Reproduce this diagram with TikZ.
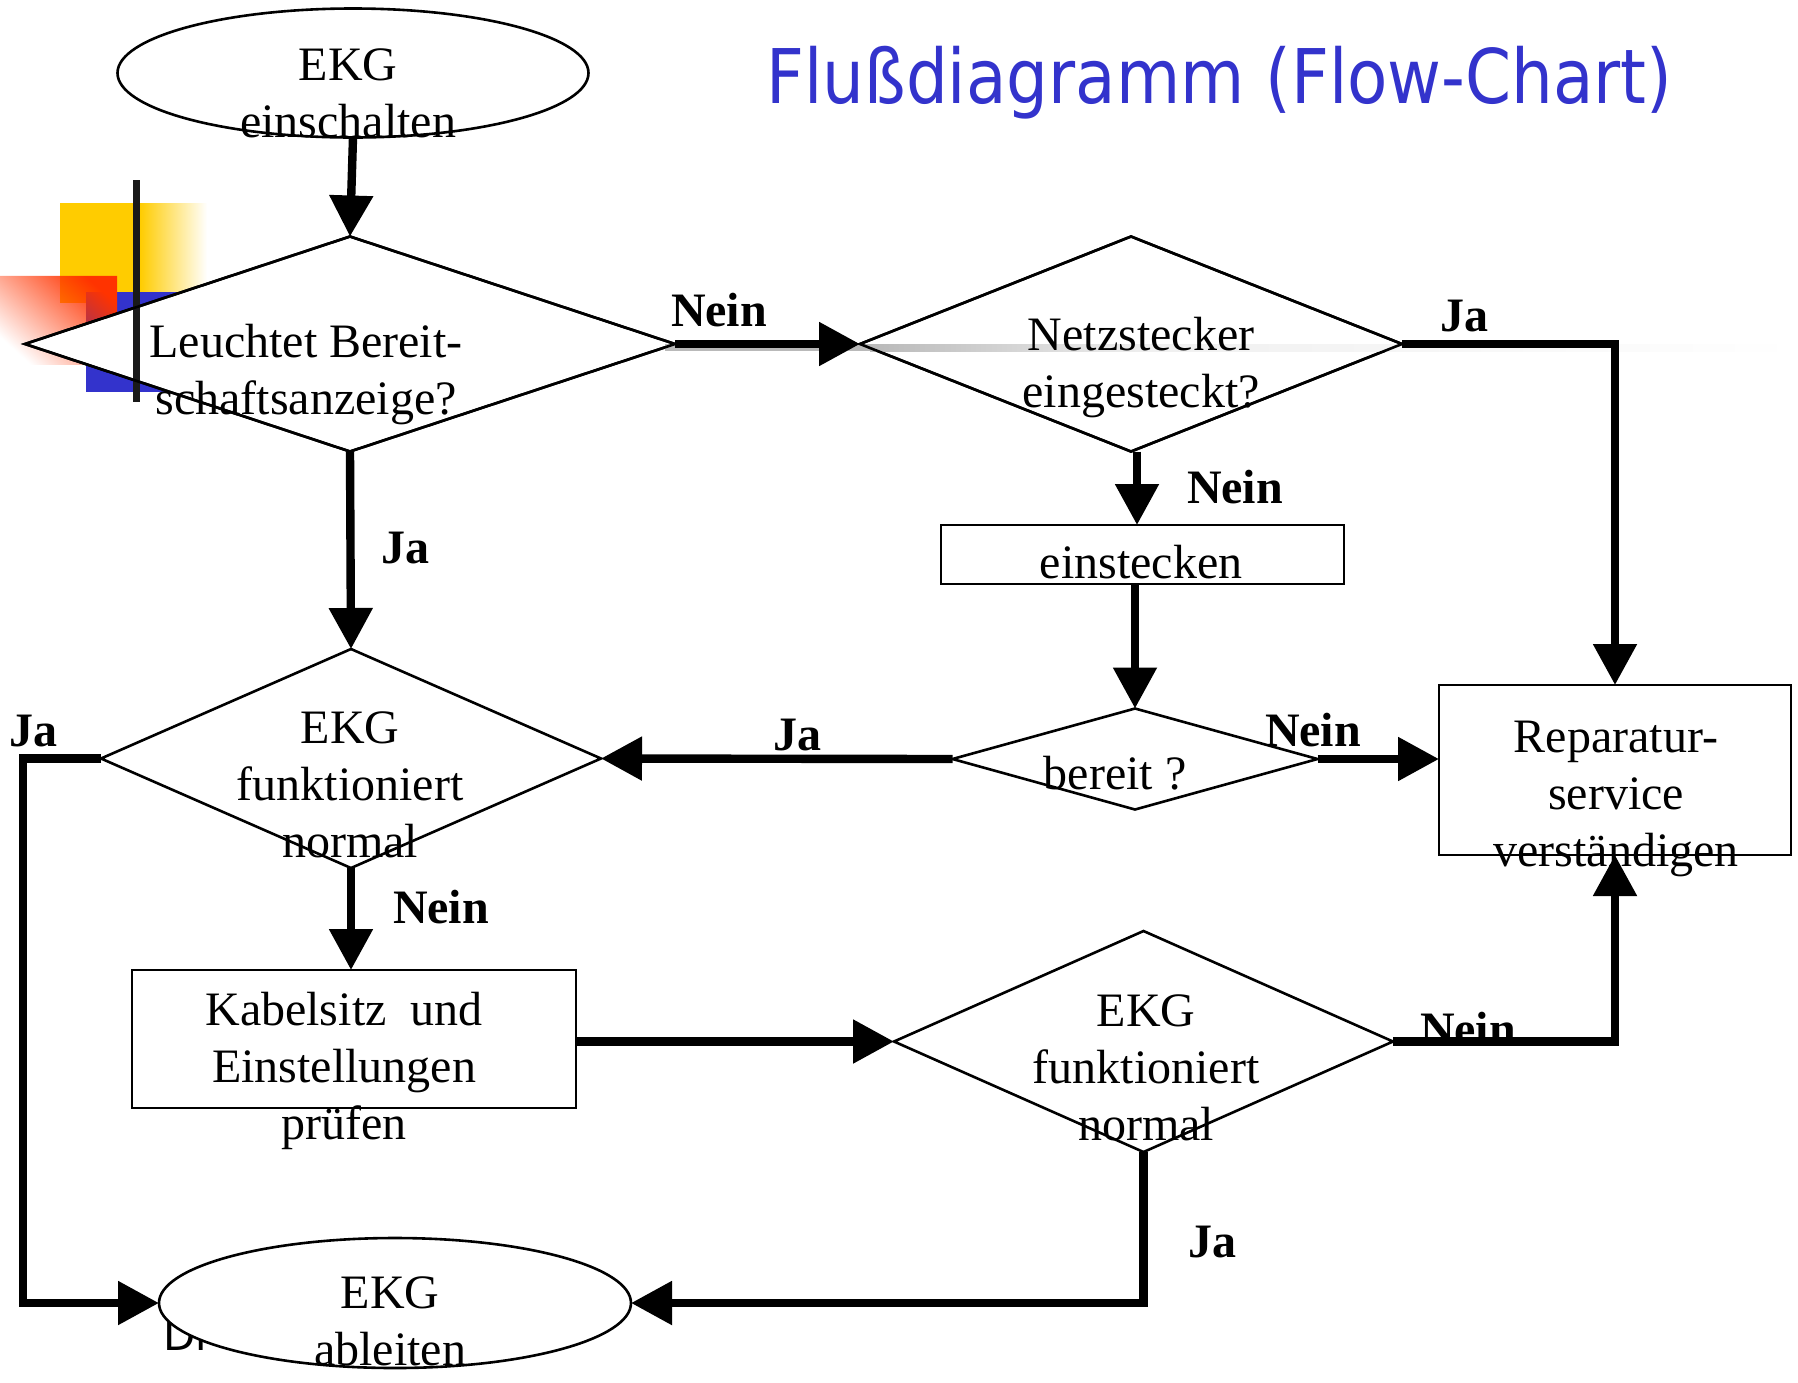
\documentclass[tikz,border=0pt]{standalone}
\usepackage{fontspec}
\usepackage{graphicx}
\setmainfont{Liberation Serif}
\newfontfamily\titlefont{DejaVu Sans}
\usetikzlibrary{shapes.geometric,arrows.meta,fadings}

\definecolor{titleblue}{HTML}{3333CC}
\definecolor{decoyellow}{HTML}{FFCC00}
\definecolor{decored}{HTML}{FF3300}
\definecolor{decoblue}{HTML}{3333CC}

\tikzfading[name=redfade, left color=transparent!100, right color=transparent!0]

% stacked, centred lines; the first baseline is the node's base
\newcommand\flowtext[1]{\begin{tabular}[t]{@{}c@{}}#1\end{tabular}}

\begin{document}
\begin{tikzpicture}[x=0.5pt,y=-0.5pt,
  base/.style={draw, line width=1.3pt, fill=white, inner sep=0pt, outer sep=0pt},
  dia/.style={base, diamond},
  oval/.style={base, ellipse},
  box/.style={base, rectangle},
  outline/.style={line width=1.3pt, line join=miter},
  txt/.style={anchor=base, inner sep=0pt, font=\fontsize{24pt}{28.5pt}\selectfont},
  lbl/.style={inner sep=0pt, font=\fontsize{24pt}{28.5pt}\selectfont\bfseries},
  conn/.style={line width=4.2pt, line join=miter},
  flow/.style={conn, -{Triangle[length=20.5pt,width=21pt]}}
]
\useasboundingbox (0,0) rectangle (1798,1382);

% corner ornament
\fill[decoyellow] (60,203) rectangle (141,303);
\shade[left color=decoyellow, right color=white] (140,203) rectangle (207,303);
\fill[decoblue] (86,292) rectangle (200,392);
\fill[decored, path fading=redfade, fading angle=40] (0,276) rectangle (117,365);

% title
\node[anchor=base west, inner sep=0pt, text=titleblue] (title) at (766,103)
  {\resizebox{453pt}{\height}{\titlefont\fontsize{37.7pt}{40pt}\selectfont Flußdiagramm (Flow-Chart)}};

% footer text, mostly hidden by the last ellipse
\node[anchor=base west, inner sep=0pt, font=\titlefont\fontsize{21pt}{24pt}\selectfont] (foot) at (163,1350) {Dr};

% shapes
\node[oval, minimum width=235.5pt, minimum height=64.5pt] (e1) at (353,73) {};
\node[dia, minimum width=325pt, minimum height=107.5pt] (d1) at (350,344) {};
\node[dia, minimum width=271pt, minimum height=107.5pt] (d2) at (1131,344) {};
\node[box, minimum width=201.5pt, minimum height=29.5pt] (r1) at (1142.5,554.5) {};
\node[dia, minimum width=182.5pt, minimum height=50.5pt] (d3) at (1135,759) {};
\node[box, minimum width=176pt, minimum height=85pt] (r2) at (1615,770) {};
\node[dia, minimum width=250pt, minimum height=109.5pt] (d4) at (351,758.5) {};
\node[box, minimum width=222pt, minimum height=69pt] (r3) at (354,1039) {};
\node[dia, minimum width=249.5pt, minimum height=110.5pt] (d5) at (1143.5,1041.5) {};
\node[oval, minimum width=236pt, minimum height=65pt] (e2) at (395,1303) {};

% ornament bar over the first decision
\fill[black!90] (133,180) rectangle (140,402);

% grey rule of the slide layout
\fill[gray!55] (665,344) rectangle (871,351);
\shade[left color=gray!55, right color=gray!12] (870,344) rectangle (1151,351);
\shade[left color=gray!12, right color=white] (1150,344) rectangle (1798,351);

% outlines of the two upper decisions stay above the rule
\draw[outline] (d1.north) -- (d1.east) -- (d1.south) -- (d1.west) -- cycle;
\draw[outline] (d2.north) -- (d2.east) -- (d2.south) -- (d2.west) -- cycle;

% texts
\node[txt] (t1) at (348,80) {\flowtext{EKG\\einschalten}};
\node[txt] (t2) at (306,357) {\flowtext{Leuchtet Bereit-\\schaftsanzeige?}};
\node[txt] (t3) at (1141,350) {\flowtext{Netzstecker\\eingesteckt?}};
\node[txt] (t4) at (1141,578) {einstecken};
\node[txt] (t5) at (1115,789) {bereit ?};
\node[txt] (t6) at (1616,752) {\flowtext{Reparatur-\\service\\verständigen}};
\node[txt] (t7) at (350,743) {\flowtext{EKG\\funktioniert\\normal}};
\node[txt] (t8) at (344,1025) {\flowtext{Kabelsitz\ \ und\\Einstellungen\\prüfen}};
\node[txt] (t9) at (1146,1026) {\flowtext{EKG\\funktioniert\\normal}};
\node[txt] (t10) at (390,1308) {\flowtext{EKG\\ableiten}};

% connectors
\coordinate (jleft) at (23,758.5);
\draw[flow] (e1.south) -- (d1.north);
\draw[flow] (d1.east) -- (d2.west);
\draw[flow] (d1.south) -- (d4.north);
\draw[flow] (d2.east) -| (r2.north);
\draw[flow] ([xshift=3pt]d2.south) -- ([xshift=3pt]d2.south |- r1.north);
\draw[flow] (d3.north |- r1.south) -- (d3.north);
\draw[flow] (d3.west) -- (d4.east);
\draw[flow] (d3.east) -- (d3.east -| r2.west);
\draw[flow] (d4.west) -- (jleft) |- (e2.west);
\draw[flow] (d4.south) -- (d4.south |- r3.north);
\draw[flow] (r3.east |- d5.west) -- (d5.west);
\draw[flow] (d5.east) -| (r2.south);
\draw[flow] (d5.south) |- (e2.east);

% branch labels
\node[lbl] (l1) at (719,310) {Nein};
\node[lbl] (l2) at (1464,316) {Ja};
\node[lbl] (l3) at (1235,487) {Nein};
\node[lbl] (l4) at (405,548) {Ja};
\node[lbl] (l5) at (797,735) {Ja};
\node[lbl] (l6) at (1313,730) {Nein};
\node[lbl] (l7) at (34,731) {Ja};
\node[lbl] (l8) at (441,907) {Nein};
\node[lbl] (l9) at (1468,1029) {Nein};
\node[lbl] (l10) at (1212,1242) {Ja};
\end{tikzpicture}
\end{document}
